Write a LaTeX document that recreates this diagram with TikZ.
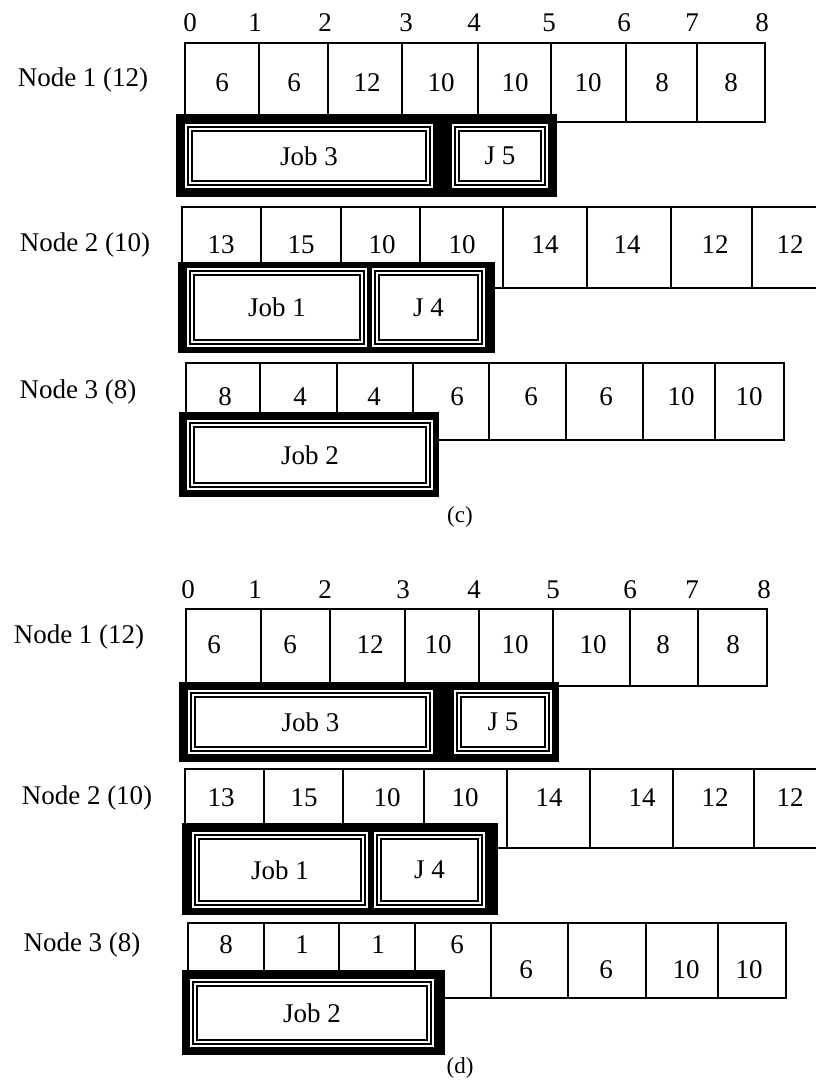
\documentclass[tikz,border=0pt]{standalone}
\usepackage{fontspec}
\setmainfont{Liberation Serif}

\begin{document}
\begin{tikzpicture}[x=1pt, y=-1pt,
  cell/.style={line width=1.6pt},
  num/.style={inner sep=0pt, font=\fontsize{27}{30}\selectfont},
  frame/.style={fill=black},
  jobbox/.style={rectangle, fill=white, draw=black, line width=1.8pt,
    double=white, double distance=1.8pt,
    preaction={draw=white, line width=10pt},
    inner sep=0pt, font=\fontsize{27}{30}\selectfont},
  panel/.style={inner sep=0pt, font=\fontsize{23}{26}\selectfont}]

\useasboundingbox (0,0) rectangle (816,1081);
\fill[white] (0,0) rectangle (816,1081);

\begin{scope}
\clip (0,0) rectangle (816,1081);

% ===== (c) =====
% time axis
\foreach \t/\x [count=\i] in {0/190,1/255,2/325,3/406,4/474,5/549,6/624,7/692,8/762}
  \node[num] (ct\i) at (\x,23) {\t};

% Node 1
\node[num] (cl1) at (83,80) {Node 1 (12)};
\foreach \xa/\xb/\v/\xm [count=\i] in {185/259/6/222, 259/328/6/294, 328/402/12/367,
    402/478/10/441, 478/551/10/515, 551/626/10/588, 626/697/8/662, 697/765/8/731} {
  \draw[cell] (\xa,43) rectangle (\xb,122);
  \node[num] (c1n\i) at (\xm,83) {\v};
}
\fill[frame] (176,114) rectangle (557,197);
\node[jobbox, minimum width=238, minimum height=54] (c1j3) at (309,156) {Job 3};
\node[jobbox, minimum width=86, minimum height=54] (c1j5) at (500,156) {J 5};

% Node 2
\node[num] (cl2) at (85,245) {Node 2 (10)};
\foreach \xa/\xb/\v/\xm [count=\i] in {182/261/13/221, 261/341/15/301, 341/420/10/382,
    420/503/10/462, 503/587/14/545, 587/671/14/627, 671/752/12/715, 752/832/12/790} {
  \draw[cell] (\xa,207) rectangle (\xb,288);
  \node[num] (c2n\i) at (\xm,245) {\v};
}
\fill[frame] (178,262) rectangle (495,353);
\node[jobbox, minimum width=170, minimum height=69] (c2j1) at (277,307.5) {Job 1};
\node[jobbox, minimum width=103, minimum height=69] (c2j4) at (428.5,307.5) {J 4};

% Node 3
\node[num] (cl3) at (78,392) {Node 3 (8)};
\foreach \xa/\xb/\v/\xm [count=\i] in {186/260/8/225, 260/337/4/300, 337/413/4/374,
    413/489/6/457, 489/566/6/531, 566/643/6/606, 643/715/10/681, 715/784/10/749} {
  \draw[cell] (\xa,363) rectangle (\xb,440);
  \node[num] (c3n\i) at (\xm,397) {\v};
}
\fill[frame] (179,412) rectangle (439,497);
\node[jobbox, minimum width=236, minimum height=60] (c3j2) at (310,455) {Job 2};

\node[panel] (capc) at (460,517) {(c)};

% ===== (d) =====
% time axis
\foreach \t/\x [count=\i] in {0/188,1/255,2/325,3/403,4/474,5/553,6/630,7/692,8/764}
  \node[num] (dt\i) at (\x,590) {\t};

% Node 1
\node[num] (dl1) at (79,637) {Node 1 (12)};
\foreach \xa/\xb/\v/\xm [count=\i] in {186/261/6/214, 261/330/6/290, 330/405/12/370,
    405/479/10/438, 479/553/10/515, 553/630/10/593, 630/698/8/663, 698/767/8/733} {
  \draw[cell] (\xa,609) rectangle (\xb,686);
  \node[num] (d1n\i) at (\xm,645) {\v};
}
\fill[frame] (179,682) rectangle (559,762);
\node[jobbox, minimum width=235, minimum height=54] (d1j3) at (310.5,722) {Job 3};
\node[jobbox, minimum width=88, minimum height=54] (d1j5) at (503,722) {J 5};

% Node 2
\node[num] (dl2) at (87,798) {Node 2 (10)};
\foreach \xa/\xb/\v/\xm [count=\i] in {185/264/13/221, 264/343/15/304, 343/424/10/387,
    424/507/10/465, 507/590/14/549, 590/673/14/642, 673/754/12/715, 754/834/12/790} {
  \draw[cell] (\xa,769) rectangle (\xb,848);
  \node[num] (d2n\i) at (\xm,798) {\v};
}
\fill[frame] (182,823) rectangle (498,915);
\node[jobbox, minimum width=166, minimum height=66] (d2j1) at (280,870) {Job 1};
\node[jobbox, minimum width=101, minimum height=66] (d2j4) at (429.5,870) {J 4};

% Node 3
\node[num] (dl3) at (82,945) {Node 3 (8)};
\foreach \xa/\xb/\v/\xm/\ym [count=\i] in {188/264/8/226/945, 264/339/1/302/945,
    339/415/1/378/945, 415/491/6/457/945, 491/568/6/526/970, 568/646/6/606/970,
    646/718/10/686/970, 718/786/10/749/970} {
  \draw[cell] (\xa,923) rectangle (\xb,998);
  \node[num] (d3n\i) at (\xm,\ym) {\v};
}
\fill[frame] (182,970) rectangle (445,1055);
\node[jobbox, minimum width=234, minimum height=58] (d3j2) at (312,1013) {Job 2};

\node[panel] (capd) at (460,1068) {(d)};
\end{scope}

\end{tikzpicture}
\end{document}
